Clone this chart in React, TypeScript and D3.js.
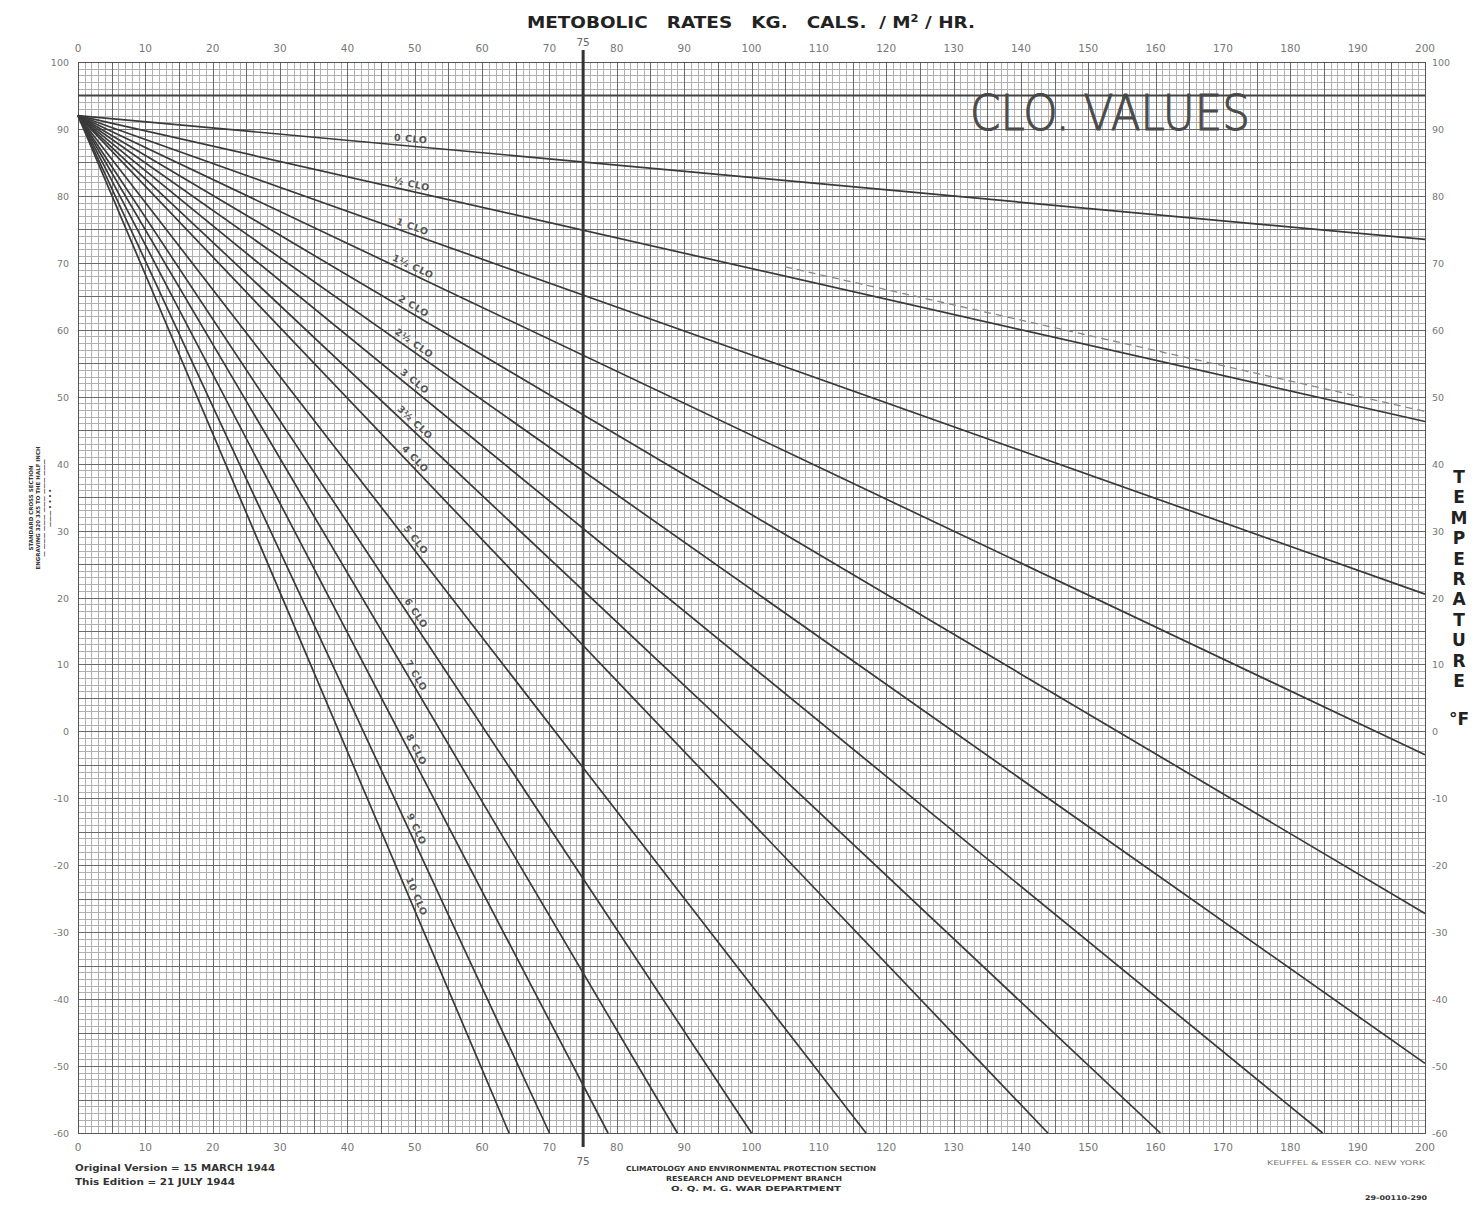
import React from 'react';
import * as d3 from 'd3';

// metabolic rate (kg cal / m2 / hr) and temperature (°F) tick labels
const rateTicks = [0, 10, 20, 30, 40, 50, 60, 70, 80, 90, 100, 110, 120, 130, 140, 150, 160, 170, 180, 190, 200];
const tempTicks = [100, 90, 80, 70, 60, 50, 40, 30, 20, 10, 0, -10, -20, -30, -40, -50, -60];

// clo lines: all start at the common origin, end where they leave the grid
const cloLabels = ['0 CLO', '½ CLO', '1 CLO', '1½ CLO', '2 CLO', '2½ CLO', '3 CLO', '3½ CLO', '4 CLO',
  '5 CLO', '6 CLO', '7 CLO', '8 CLO', '9 CLO', '10 CLO'];
const originRate = 0;
const originTemp = 92;
const endRate = [200, 200, 200, 200, 200, 200, 184.8, 160.7, 144, 117, 100, 89, 78.7, 70, 64];
const endTemp = [73.5, 46.3, 20.5, -3.5, -27.2, -49.6, -60, -60, -60, -60, -60, -60, -60, -60, -60];

// reference lines
const refRate = 75;
const refTemp = 95;
const dashedRate = [105, 200];
const dashedTemp = [69.4, 47.8];

const labelRate = 49.3;

const W = 1480, H = 1206;

const App = () => {
  const x = d3.scaleLinear().domain([0, 200]).range([78, 1425]);
  const y = d3.scaleLinear().domain([-60, 100]).range([1133, 62]);
  const line = d3.line<[number, number]>().x(d => x(d[0])).y(d => y(d[1]));

  // pixel-snapped grid paths
  const px = (v: number) => Math.round(x(v)) + 0.5;
  const py = (v: number) => Math.round(y(v)) + 0.5;
  let minor = '', major = '';
  d3.range(0, 201).forEach(v => {
    const seg = `M${px(v)},${py(100)}V${py(-60)}`;
    if (v % 5 === 0) major += seg; else minor += seg;
  });
  d3.range(-60, 101).forEach(v => {
    const seg = `M${px(0)},${py(v)}H${px(200)}`;
    if (v % 5 === 0) major += seg; else minor += seg;
  });

  const tick = { fontFamily: 'DejaVu Sans, sans-serif', fontSize: 10.5, fill: '#777' };
  const small = { fontFamily: 'DejaVu Sans, sans-serif', fontWeight: 700, fill: '#333' } as const;

  return (
    <svg width={W} height={H} style={{ position: 'absolute', left: 0, top: 0, background: '#fff' }}>
      <rect width={W} height={H} fill="#fff" />
      {/* paper grid */}
      <g shapeRendering="crispEdges" fill="none">
        <path d={minor} stroke="#b0b0b0" strokeWidth={1} />
        <path d={major} stroke="#6a6a6a" strokeWidth={1} />
        <rect x={px(0)} y={py(100)} width={px(200) - px(0)} height={py(-60) - py(100)} stroke="#555" strokeWidth={1} />
      </g>

      <text x={970} y={130} textLength={280} lengthAdjust="spacingAndGlyphs"
        fontFamily="DejaVu Sans, sans-serif" fontWeight={200} fontSize={50} fill="#4a4a4a"
        stroke="#4a4a4a" strokeWidth={1.1}>
        CLO. VALUES
      </text>

      {/* reference lines */}
      <line x1={x(0)} x2={x(200)} y1={y(refTemp)} y2={y(refTemp)} stroke="#444" strokeWidth={2} />
      <line x1={x(refRate)} x2={x(refRate)} y1={y(100) - 12} y2={y(-60) + 14} stroke="#333" strokeWidth={3} />
      <text x={x(refRate)} y={46} textAnchor="middle" {...tick} fill="#666">75</text>
      <text x={x(refRate)} y={1165} textAnchor="middle" {...tick} fill="#666">75</text>
      <path d={line(dashedRate.map((r, i) => [r, dashedTemp[i]]) as [number, number][]) || ''}
        fill="none" stroke="#888" strokeWidth={1.3} strokeDasharray="7 5" />

      {/* clo lines */}
      {cloLabels.map((lab, i) => {
        const pts: [number, number][] = [[originRate, originTemp], [endRate[i], endTemp[i]]];
        const slope = (endTemp[i] - originTemp) / (endRate[i] - originRate);
        const lx = x(labelRate);
        const ly = y(originTemp + slope * (labelRate - originRate));
        const ang = Math.atan2(y(originTemp + slope) - y(originTemp), x(1) - x(0)) * 180 / Math.PI;
        return (
          <g key={lab}>
            <path d={line(pts) || ''} fill="none" stroke="#3a3a3a" strokeWidth={1.7} />
            <g transform={`translate(${lx},${ly}) rotate(${ang})`}>
              <rect x={-19} y={-12} width={38} height={9} fill="#fff" opacity={0.35} />
              <text x={0} y={-4} textAnchor="middle" fontFamily="DejaVu Sans, sans-serif"
                fontSize={9.5} fontWeight={700} fill="#555" letterSpacing={0.6}>{lab}</text>
            </g>
          </g>
        );
      })}

      {/* axis labels */}
      {rateTicks.map(v => (
        <g key={'rt' + v}>
          <text x={x(v)} y={52} textAnchor="middle" {...tick}>{v}</text>
          <text x={x(v)} y={1151} textAnchor="middle" {...tick}>{v}</text>
        </g>
      ))}
      {tempTicks.map(v => (
        <g key={'tt' + v}>
          <text x={69} y={y(v) + 4} textAnchor="end" {...tick} fontSize={9.5}>{v}</text>
          <text x={1432} y={y(v) + 4} textAnchor="start" {...tick} fontSize={9.5}>{v}</text>
        </g>
      ))}

      {/* title */}
      <text x={527} y={28} textLength={448} lengthAdjust="spacingAndGlyphs" style={{ whiteSpace: 'pre' }}
        fontFamily="DejaVu Sans, sans-serif" fontWeight={700} fontSize={16} fill="#222">
        {'METOBOLIC   RATES   KG.   CALS.  / M'}<tspan fontSize={10} dy={-6}>2</tspan><tspan dy={6}>{' / HR.'}</tspan>
      </text>

      {/* temperature axis title */}
      {'TEMPERATURE'.split('').map((c, i) => (
        <text key={'T' + i} x={1459} y={483 + i * 20.4} textAnchor="middle" fontFamily="DejaVu Sans, sans-serif"
          fontWeight={700} fontSize={17} fill="#222">{c}</text>
      ))}
      <text x={1459} y={725} textAnchor="middle" fontFamily="DejaVu Sans, sans-serif" fontWeight={700} fontSize={17} fill="#222">°F</text>

      {/* paper maker note */}
      <g transform="translate(33,508) rotate(-90)" fontFamily="DejaVu Sans, sans-serif" fontWeight={700} fill="#333">
        <text x={0} y={0} textAnchor="middle" fontSize={5.5}>STANDARD CROSS SECTION</text>
        <text x={0} y={7} textAnchor="middle" fontSize={5.5}>ENGRAVING 320 3X5 TO THE HALF INCH</text>
        <text x={0} y={13} textAnchor="middle" fontSize={5.5}>— ——— ——— ——— ——— ———</text>
        <text x={0} y={19} textAnchor="middle" fontSize={5.5}>——— • • • •</text>
      </g>

      {/* footer */}
      <text x={75} y={1171} textLength={200} lengthAdjust="spacingAndGlyphs" {...small} fontSize={8.5}>Original Version = 15 MARCH 1944</text>
      <text x={75} y={1185} textLength={160} lengthAdjust="spacingAndGlyphs" {...small} fontSize={8.5}>This Edition = 21 JULY 1944</text>
      <text x={751} y={1171} textAnchor="middle" textLength={250} lengthAdjust="spacingAndGlyphs" {...small} fontSize={7}>CLIMATOLOGY AND ENVIRONMENTAL PROTECTION SECTION</text>
      <text x={754} y={1181} textAnchor="middle" textLength={176} lengthAdjust="spacingAndGlyphs" {...small} fontSize={7}>RESEARCH AND DEVELOPMENT BRANCH</text>
      <text x={756} y={1191} textAnchor="middle" textLength={170} lengthAdjust="spacingAndGlyphs" {...small} fontSize={7}>O. Q. M. G.    WAR DEPARTMENT</text>
      <text x={1346} y={1165} textAnchor="middle" textLength={158} lengthAdjust="spacingAndGlyphs" fontFamily="DejaVu Sans, sans-serif" fontSize={6.5} fill="#777">KEUFFEL &amp; ESSER CO.   NEW YORK</text>
      <text x={1396} y={1200} textAnchor="middle" textLength={62} lengthAdjust="spacingAndGlyphs" {...small} fontSize={6.5}>29-00110-290</text>
    </svg>
  );
};

export default App;
